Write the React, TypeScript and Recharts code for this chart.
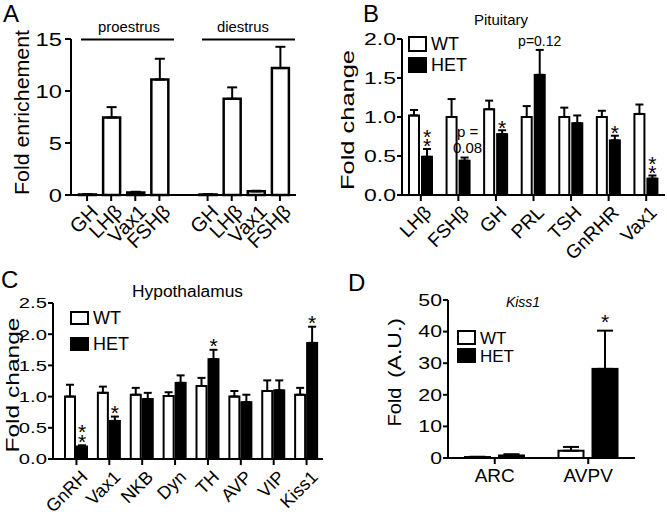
import React from 'react';
import { BarChart, Bar, XAxis, YAxis, ErrorBar, Legend } from 'recharts';

const FONT = '"Liberation Sans", Arial, Helvetica, sans-serif';

// A: fold enrichment at proestrus / diestrus
const A_GENES = ['GH', 'LHβ', 'Vax1', 'FSHβ'];
const A_PROESTRUS = [0.05, 7.45, 0.25, 11.1];
const A_PROESTRUS_ERR = [0.02, 1.0, 0.06, 2.0];
const A_DIESTRUS = [0.05, 9.25, 0.35, 12.2];
const A_DIESTRUS_ERR = [0.02, 1.1, 0.06, 2.05];
const A_TICKS = [0, 5, 10, 15];

// B: pituitary
const B_GENES = ['LHβ', 'FSHβ', 'GH', 'PRL', 'TSH', 'GnRHR', 'Vax1'];
const B_WT = [1.02, 1.0, 1.1, 1.0, 1.0, 1.0, 1.04];
const B_WT_ERR = [0.07, 0.23, 0.11, 0.14, 0.12, 0.08, 0.12];
const B_HET = [0.49, 0.44, 0.78, 1.54, 0.92, 0.7, 0.21];
const B_HET_ERR = [0.1, 0.04, 0.05, 0.32, 0.1, 0.06, 0.04];
const B_SIG = ['**', 'p =|0.08', '*', 'p=0.12', '', '*', '**'];
const B_TICKS = [0, 0.5, 1, 1.5, 2];

// C: hypothalamus
const C_GENES = ['GnRH', 'Vax1', 'NKB', 'Dyn', 'TH', 'AVP', 'VIP', 'Kiss1'];
const C_WT = [1.0, 1.06, 1.03, 1.01, 1.17, 1.0, 1.09, 1.03];
const C_WT_ERR = [0.19, 0.1, 0.11, 0.06, 0.13, 0.09, 0.17, 0.11];
const C_HET = [0.2, 0.61, 0.96, 1.22, 1.6, 0.91, 1.1, 1.86];
const C_HET_ERR = [0.02, 0.07, 0.1, 0.12, 0.15, 0.12, 0.16, 0.26];
const C_SIG = ['**', '*', '', '', '*', '', '', '*'];
const C_TICKS = [0, 0.5, 1, 1.5, 2, 2.5];

// D: Kiss1 by region
const D_REGIONS = ['ARC', 'AVPV'];
const D_WT = [0.3, 2.3];
const D_WT_ERR = [0.1, 1.2];
const D_HET = [0.8, 28.2];
const D_HET_ERR = [0.4, 12.1];
const D_SIG = ['', '*'];
const D_TICKS = [0, 10, 20, 30, 40, 50];

const SERIES = [
  { name: 'WT', fill: '#fff' },
  { name: 'HET', fill: '#000' },
];

const aData = [
  ...A_GENES.map((g, i) => ({ id: `pro-${g}`, label: g, val: A_PROESTRUS[i], err: [0, A_PROESTRUS_ERR[i]] })),
  { id: 'gap', label: '' },
  ...A_GENES.map((g, i) => ({ id: `di-${g}`, label: g, val: A_DIESTRUS[i], err: [0, A_DIESTRUS_ERR[i]] })),
];
const aLabels = Object.fromEntries(aData.map((d) => [d.id, d.label]));

function pairRows(names, wt, wtErr, het, hetErr, sig) {
  return names.map((name, i) => ({
    name,
    wt: wt[i],
    wtErr: [0, wtErr[i]],
    het: het[i],
    hetErrV: hetErr[i],
    hetErr: [0, hetErr[i]],
    sig: sig[i],
  }));
}

const bData = pairRows(B_GENES, B_WT, B_WT_ERR, B_HET, B_HET_ERR, B_SIG);
const cData = pairRows(C_GENES, C_WT, C_WT_ERR, C_HET, C_HET_ERR, C_SIG);
const dData = pairRows(D_REGIONS, D_WT, D_WT_ERR, D_HET, D_HET_ERR, D_SIG);

function YTick({ x, y, payload, fontSize, sx, digits }: any) {
  const s = digits ? Number(payload.value).toFixed(digits) : String(payload.value);
  return (
    <g transform={`translate(${x},${y}) scale(${sx},1)`}>
      <text x={0} y={0} dy="0.36em" textAnchor="end" fontSize={fontSize} fill="#000">
        {s}
      </text>
    </g>
  );
}

function SlantTick({ x, y, payload, labels, fontSize, dx, dy }: any) {
  const lbl = labels ? labels[payload.value] : payload.value;
  if (!lbl) return <g />;
  return (
    <g>
      <line x1={x} y1={y} x2={x} y2={y + 6} stroke="#000" strokeWidth={2} />
      <text
        transform={`translate(${x + dx},${y + dy}) rotate(-45)`}
        textAnchor="end"
        dy="0.72em"
        fontSize={fontSize}
        fill="#000"
      >
        {lbl}
      </text>
    </g>
  );
}

function FlatTick({ x, y, payload, fontSize }: any) {
  return (
    <g>
      <line x1={x} y1={y} x2={x} y2={y + 6} stroke="#000" strokeWidth={2} />
      <text x={x} y={y + 10} dy="0.72em" textAnchor="middle" fontSize={fontSize} fill="#000">
        {payload.value}
      </text>
    </g>
  );
}

function Annotation({ cx, top, sig, gap }: any) {
  if (!sig) return null;
  if (/^\*+$/.test(sig)) {
    // stacked asterisks, one text element
    const base = top - gap + 8.5;
    return (
      <text x={cx} y={base} textAnchor="middle" fontSize={21} fill="#000">
        {sig.split('').map((_, i) => (
          <tspan key={i} x={cx} y={base - i * 9.5}>
            *
          </tspan>
        ))}
      </text>
    );
  }
  const lines = sig.split('|');
  if (lines.length === 1) {
    return (
      <text x={cx} y={top - 4} textAnchor="middle" fontSize={14} fill="#000">
        {sig}
      </text>
    );
  }
  return (
    <text x={cx + 3} y={top - 5} textAnchor="middle" fontSize={15} fill="#000">
      {lines.map((t, i) => (
        <tspan key={i} x={cx + 3} y={top - 5 - (lines.length - 1 - i) * 16}>
          {t}
        </tspan>
      ))}
    </text>
  );
}

function HetBar(props: any) {
  const { x, y, width, height, payload, gap } = props;
  const k = payload.het > 0 ? height / payload.het : 0;
  const top = y - payload.hetErrV * k;
  return (
    <g>
      <rect x={x} y={y} width={width} height={height} fill="#000" stroke="#000" strokeWidth={2} />
      <Annotation cx={x + width / 2} top={top} sig={payload.sig} gap={gap} />
    </g>
  );
}

function LegendBox({ pitch, fontSize, boxW, boxH }: any) {
  const pad = 6;
  return (
    <svg width={100} height={pitch + boxH + 2 * pad} style={{ display: 'block', overflow: 'visible', fontFamily: FONT }}>
      {SERIES.map((s, i) => (
        <g key={s.name}>
          <rect x={1} y={pad + i * pitch} width={boxW} height={boxH} fill={s.fill} stroke="#000" strokeWidth={2} />
          <text x={boxW + 6} y={pad + i * pitch + boxH / 2} dy="0.36em" fontSize={fontSize} fill="#000">
            {s.name}
          </text>
        </g>
      ))}
    </svg>
  );
}

const axisStroke = { stroke: '#000', strokeWidth: 2 };

function PairChart({ data, box, margin, yWidth, ticks, digits, tickFont, tickSx, barSize, barGap, cap, starGap, xTick, xHeight, xPadding, legend }: any) {
  return (
    <div style={{ position: 'absolute', left: box.left, top: box.top }}>
      <BarChart width={box.width} height={box.height} data={data} margin={margin} barSize={barSize} barGap={barGap}>
        <XAxis
          dataKey="name"
          interval={0}
          height={xHeight}
          tickSize={0}
          tickMargin={0}
          tickLine={false}
          axisLine={axisStroke}
          padding={xPadding}
          tick={xTick}
        />
        <YAxis
          width={yWidth}
          domain={[ticks[0], ticks[ticks.length - 1]]}
          ticks={ticks}
          interval={0}
          tickSize={5}
          tickMargin={1}
          tickLine={axisStroke}
          axisLine={axisStroke}
          tick={<YTick fontSize={tickFont} sx={tickSx} digits={digits} />}
        />
        <Legend
          layout="vertical"
          align="center"
          verticalAlign="middle"
          wrapperStyle={{ left: legend.left, top: legend.top - 5, width: 100 }}
          content={() => <LegendBox pitch={legend.pitch} fontSize={legend.font} boxW={17} boxH={legend.boxH} />}
        />
        <Bar dataKey="wt" name="WT" fill="#fff" stroke="#000" strokeWidth={2} isAnimationActive={false}>
          <ErrorBar dataKey="wtErr" direction="y" width={cap} stroke="#000" strokeWidth={2} isAnimationActive={false} />
        </Bar>
        <Bar
          dataKey="het"
          name="HET"
          fill="#000"
          stroke="#000"
          strokeWidth={2}
          isAnimationActive={false}
          shape={(p: any) => <HetBar {...p} gap={starGap} />}
        >
          <ErrorBar dataKey="hetErr" direction="y" width={cap} stroke="#000" strokeWidth={2} isAnimationActive={false} />
        </Bar>
      </BarChart>
    </div>
  );
}

function Overlay() {
  const rot = (x: number, y: number) => `translate(${x},${y}) rotate(-90)`;
  return (
    <svg width={667} height={516} style={{ position: 'absolute', left: 0, top: 0, pointerEvents: 'none', fontFamily: FONT }}>
      <text x={3} y={22} fontSize={24}>A</text>
      <text x={363} y={22} fontSize={24}>B</text>
      <text x={1} y={288} fontSize={24}>C</text>
      <text x={348} y={291} fontSize={24}>D</text>

      <text x={129} y={32} fontSize={14} textAnchor="middle" textLength={62} lengthAdjust="spacingAndGlyphs">proestrus</text>
      <text x={243} y={32} fontSize={14} textAnchor="middle" textLength={52} lengthAdjust="spacingAndGlyphs">diestrus</text>
      <line x1={81} y1={39.5} x2={174} y2={39.5} stroke="#000" strokeWidth={2} />
      <line x1={202} y1={39.5} x2={295} y2={39.5} stroke="#000" strokeWidth={2} />
      <text transform={rot(29, 112.5)} fontSize={20} textAnchor="middle" textLength={165} lengthAdjust="spacingAndGlyphs">Fold enrichement</text>

      <text x={501} y={25} fontSize={15} textAnchor="middle">Pituitary</text>
      <text transform={rot(354, 120)} fontSize={19} textAnchor="middle" textLength={140} lengthAdjust="spacingAndGlyphs">Fold change</text>

      <text x={187.5} y={297} fontSize={16} textAnchor="middle" textLength={111} lengthAdjust="spacingAndGlyphs">Hypothalamus</text>
      <text transform={rot(19, 385)} fontSize={19} textAnchor="middle" textLength={135} lengthAdjust="spacingAndGlyphs">Fold change</text>

      <text x={523} y={307} fontSize={14} fontStyle="italic" textAnchor="middle">Kiss1</text>
      <text transform={rot(401, 407)} fontSize={19} textAnchor="middle" textLength={39} lengthAdjust="spacingAndGlyphs">Fold</text>
      <text transform={rot(401, 348)} fontSize={19} textAnchor="middle" textLength={60} lengthAdjust="spacingAndGlyphs">(A.U.)</text>
    </svg>
  );
}

export default function App() {
  return (
    <div
      style={{
        position: 'absolute',
        left: 0,
        top: 0,
        width: 667,
        height: 516,
        background: '#fff',
        overflow: 'hidden',
        fontFamily: FONT,
      }}
    >
      {/* A */}
      <div style={{ position: 'absolute', left: 0, top: 0 }}>
        <BarChart width={310} height={260} data={aData} margin={{ top: 39, right: 14, bottom: 5, left: 30 }} barSize={17}>
          <XAxis
            dataKey="id"
            interval={0}
            height={60}
            tickSize={0}
            tickMargin={0}
            tickLine={false}
            axisLine={axisStroke}
            padding={{ left: 4, right: 4 }}
            tick={<SlantTick labels={aLabels} fontSize={20} dx={2} dy={8} />}
          />
          <YAxis
            width={41}
            domain={[0, 15]}
            ticks={A_TICKS}
            interval={0}
            tickSize={6}
            tickMargin={3}
            tickLine={axisStroke}
            axisLine={axisStroke}
            tick={<YTick fontSize={19} sx={1.25} digits={0} />}
          />
          <Bar dataKey="val" fill="#fff" stroke="#000" strokeWidth={2.5} isAnimationActive={false}>
            <ErrorBar dataKey="err" direction="y" width={5} stroke="#000" strokeWidth={2} isAnimationActive={false} />
          </Bar>
        </BarChart>
      </div>

      {/* B */}
      <PairChart
        data={bData}
        box={{ left: 330, top: 0, width: 337, height: 278 }}
        margin={{ top: 39, right: 2, bottom: 23, left: 27 }}
        yWidth={45}
        ticks={B_TICKS}
        digits={1}
        tickFont={17}
        tickSx={1.35}
        barSize={10}
        barGap={3}
        cap={4}
        starGap={4}
        xHeight={60}
        xPadding={{ left: 0, right: 0 }}
        xTick={<SlantTick fontSize={19} dx={2} dy={9} />}
        legend={{ left: 78, top: 36, pitch: 21, font: 18, boxH: 14 }}
      />

      {/* C */}
      <PairChart
        data={cData}
        box={{ left: 0, top: 260, width: 340, height: 256 }}
        margin={{ top: 43, right: 17, bottom: 5, left: 13 }}
        yWidth={40}
        ticks={C_TICKS}
        digits={1}
        tickFont={15}
        tickSx={1.35}
        barSize={10}
        barGap={2}
        cap={4}
        starGap={5}
        xHeight={52}
        xPadding={{ left: 7, right: 0 }}
        xTick={<SlantTick fontSize={18} dx={3} dy={10} />}
        legend={{ left: 70, top: 51, pitch: 26, font: 18, boxH: 12 }}
      />

      {/* D */}
      <PairChart
        data={dData}
        box={{ left: 380, top: 260, width: 287, height: 256 }}
        margin={{ top: 40, right: 32, bottom: 18, left: 28 }}
        yWidth={40}
        ticks={D_TICKS}
        digits={0}
        tickFont={16}
        tickSx={1.33}
        barSize={25}
        barGap={9}
        cap={8}
        starGap={10}
        xHeight={40}
        xPadding={{ left: 0, right: 0 }}
        xTick={<FlatTick fontSize={19} />}
        legend={{ left: 77, top: 70, pitch: 18, font: 17, boxH: 13 }}
      />

      <Overlay />
    </div>
  );
}
